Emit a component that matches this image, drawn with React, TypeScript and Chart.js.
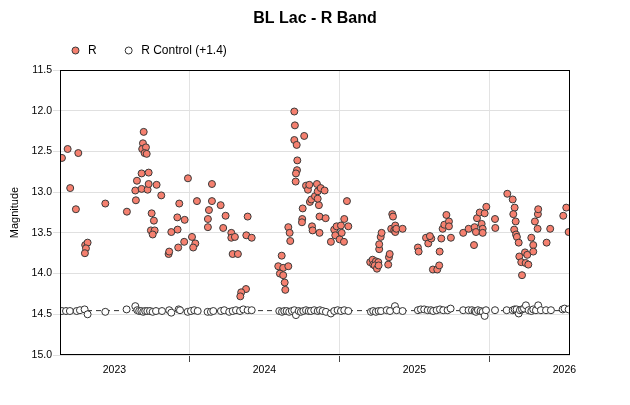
import { useEffect, useRef } from "react";
import { Chart, registerables } from "chart.js";

Chart.register(...registerables);

const TITLE = "BL Lac - R Band";
const R_LABEL = "R";
const CONTROL_LABEL = "R Control (+1.4)";
const Y_TITLE = "Magnitude";

// Observation epochs (decimal years) and R magnitudes of BL Lac
const rDates = [
  2023.150, 2023.188, 2023.259, 2023.205, 2023.243, 2023.305, 2023.321, 2023.310, 2023.303,
  2023.439, 2023.583, 2023.643, 2023.639, 2023.650, 2023.681, 2023.681, 2023.721, 2023.728,
  2023.728, 2023.695, 2023.690, 2023.685, 2023.710, 2023.701, 2023.715, 2023.781, 2023.812,
  2023.748, 2023.763, 2023.743, 2023.768, 2023.755, 2023.861, 2023.865, 2023.879, 2023.921,
  2023.919, 2023.932, 2023.968, 2023.925, 2023.965, 2023.990,
  2024.017, 2024.039, 2024.025, 2024.050, 2024.150, 2024.150, 2024.130, 2024.123, 2024.123,
  2024.208, 2024.241, 2024.225, 2024.279, 2024.279, 2024.303, 2024.288, 2024.323, 2024.388,
  2024.379, 2024.415, 2024.377, 2024.345, 2024.339,
  2024.615, 2024.592, 2024.625, 2024.659, 2024.603, 2024.625, 2024.635, 2024.639, 2024.659,
  2024.668, 2024.672, 2024.699, 2024.703, 2024.699, 2024.715, 2024.765, 2024.719, 2024.717,
  2024.710, 2024.708, 2024.777, 2024.790, 2024.799, 2024.850, 2024.755, 2024.752, 2024.750,
  2024.803, 2024.812, 2024.837, 2024.855, 2024.863, 2024.817, 2024.821, 2024.867, 2024.867,
  2024.875, 2024.901, 2024.855, 2024.908, 2025.050, 2024.943, 2024.965, 2024.981, 2024.972,
  2025.001, 2025.015, 2025.010, 2025.032, 2025.059, 2025.030,
  2025.205, 2025.221, 2025.225, 2025.243, 2025.259, 2025.235, 2025.250, 2025.261, 2025.265,
  2025.265, 2025.275, 2025.281, 2025.325, 2025.330, 2025.335, 2025.352, 2025.357, 2025.345,
  2025.365, 2025.372, 2025.372, 2025.379, 2025.421,
  2025.523, 2025.528, 2025.577, 2025.592, 2025.612, 2025.603, 2025.668, 2025.679, 2025.623,
  2025.652, 2025.665, 2025.688, 2025.699, 2025.713, 2025.730, 2025.730, 2025.743,
  2025.825, 2025.861, 2025.901, 2025.897, 2025.910, 2025.917, 2025.935, 2025.948, 2025.955,
  2025.955, 2025.968, 2025.979, 2026.037, 2026.039,
  2026.119, 2026.155, 2026.168, 2026.159, 2026.175, 2026.165, 2026.177, 2026.183, 2026.195,
  2026.199, 2026.237, 2026.252, 2026.212, 2026.241, 2026.259, 2026.217, 2026.279, 2026.292,
  2026.292, 2026.303, 2026.323, 2026.325, 2026.321, 2026.381, 2026.405, 2026.492, 2026.512,
  2026.528,
];

const rMags = [
  12.58, 12.47, 12.52, 12.95, 13.21, 13.65, 13.62, 13.69, 13.75,
  13.14, 13.24, 13.10, 12.98, 12.86, 12.77, 12.96, 12.97, 12.76,
  12.90, 12.26, 12.40, 12.47, 12.45, 12.52, 12.53, 12.91, 13.04,
  13.26, 13.35, 13.47, 13.47, 13.52, 13.76, 13.73, 13.49, 13.46,
  13.31, 13.14, 13.34, 13.68, 13.61, 12.83,
  13.55, 13.63, 13.68, 13.11, 12.90, 13.11, 13.22, 13.33, 13.43,
  13.16, 13.29, 13.44, 13.50, 13.56, 13.55, 13.76, 13.76, 13.30,
  13.53, 13.56, 14.19, 14.23, 14.28,
  13.78, 13.91, 13.93, 13.91, 14.00, 14.02, 14.11, 14.20, 13.43,
  13.50, 13.60, 12.01, 12.18, 12.36, 12.42, 12.31, 12.61, 12.73,
  12.77, 12.87, 12.92, 12.97, 12.91, 12.90, 13.20, 13.33, 13.37,
  13.12, 13.09, 13.05, 12.99, 13.16, 13.42, 13.47, 13.30, 13.50,
  12.95, 12.98, 13.08, 13.32, 13.11, 13.61, 13.46, 13.42, 13.53,
  13.58, 13.50, 13.41, 13.33, 13.42, 13.61,
  13.86, 13.83, 13.89, 13.85, 13.86, 13.90, 13.94, 13.90, 13.70,
  13.64, 13.55, 13.50, 13.89, 13.80, 13.76, 13.27, 13.30, 13.45,
  13.47, 13.41, 13.49, 13.45, 13.45,
  13.68, 13.73, 13.56, 13.63, 13.57, 13.54, 13.73, 13.57, 13.95,
  13.95, 13.90, 13.45, 13.40, 13.28, 13.36, 13.42, 13.56,
  13.50, 13.45, 13.43, 13.65, 13.49, 13.32, 13.25, 13.39, 13.45,
  13.50, 13.26, 13.18, 13.33, 13.44,
  13.02, 13.09, 13.19, 13.27, 13.36, 13.46, 13.52, 13.55, 13.62,
  13.79, 13.74, 13.77, 13.86, 13.87, 13.89, 14.02, 13.56, 13.65,
  13.73, 13.36, 13.27, 13.21, 13.45, 13.62, 13.45, 13.29, 13.19,
  13.49,
];

// Comparison star, shifted by +1.4 mag
const controlDates = [
  2023.150, 2023.177, 2023.203, 2023.248, 2023.270, 2023.301, 2023.321, 2023.439, 2023.581,
  2023.639, 2023.652, 2023.665, 2023.679, 2023.692, 2023.705, 2023.719, 2023.737, 2023.755,
  2023.777, 2023.817, 2023.865, 2023.879, 2023.928, 2023.937, 2023.988,
  2024.010, 2024.032, 2024.055, 2024.121, 2024.143, 2024.159, 2024.210, 2024.232, 2024.265,
  2024.288, 2024.310, 2024.337, 2024.359, 2024.388, 2024.415,
  2024.599, 2024.617, 2024.632, 2024.648, 2024.665, 2024.683, 2024.699, 2024.710, 2024.728,
  2024.743, 2024.759, 2024.777, 2024.795, 2024.810, 2024.832, 2024.855,
  2024.870, 2024.888, 2024.910, 2024.943, 2024.965, 2024.988, 2025.010, 2025.032, 2025.059,
  2025.210, 2025.225, 2025.243, 2025.261, 2025.277, 2025.315, 2025.337, 2025.370, 2025.381,
  2025.421,
  2025.523, 2025.543, 2025.565, 2025.588, 2025.610, 2025.625, 2025.648, 2025.670, 2025.692,
  2025.721, 2025.741,
  2025.825, 2025.861, 2025.883, 2025.901, 2025.910, 2025.923, 2025.941, 2025.955, 2025.968,
  2025.977,
  2026.037, 2026.115, 2026.155, 2026.168, 2026.181, 2026.195, 2026.203, 2026.217, 2026.230,
  2026.243, 2026.261, 2026.279, 2026.292, 2026.310, 2026.325, 2026.343, 2026.377, 2026.410,
  2026.488, 2026.501, 2026.528,
];

const controlMags = [
  14.46, 14.46, 14.46, 14.46, 14.45, 14.44, 14.50, 14.47, 14.44,
  14.40, 14.45, 14.46, 14.46, 14.47, 14.46, 14.46, 14.46, 14.47,
  14.46, 14.46, 14.45, 14.48, 14.44, 14.45, 14.47,
  14.46, 14.45, 14.46, 14.47, 14.47, 14.46, 14.46, 14.45, 14.47,
  14.46, 14.45, 14.46, 14.44, 14.45, 14.45,
  14.46, 14.47, 14.46, 14.46, 14.47, 14.46, 14.45, 14.51, 14.46,
  14.47, 14.46, 14.45, 14.46, 14.46, 14.45, 14.46,
  14.45, 14.46, 14.47, 14.49, 14.46, 14.45, 14.46, 14.45, 14.46,
  14.47, 14.46, 14.47, 14.46, 14.46, 14.45, 14.46, 14.40, 14.45,
  14.46,
  14.45, 14.44, 14.44, 14.45, 14.45, 14.46, 14.45, 14.44, 14.45,
  14.45, 14.43,
  14.45, 14.45, 14.45, 14.46, 14.47, 14.45, 14.46, 14.47, 14.52,
  14.45,
  14.45, 14.45, 14.45, 14.44, 14.44, 14.49, 14.45, 14.44, 14.43,
  14.39, 14.45, 14.46, 14.44, 14.45, 14.39, 14.45, 14.45, 14.45,
  14.44, 14.43, 14.44,
];

// Mean level of the comparison star
const controlMean = 14.455;

const xMin = 2023.137;
const xMax = 2026.537;
const yMin = 11.5;
const yMax = 15.0;
const yStep = 0.5;
// Year boundaries get grid lines; year labels sit mid-year
const yearBoundaries = [2024, 2025, 2026];
const yearLabels = [2023, 2024, 2025, 2026];

const FONT = "'Liberation Sans', Arial, sans-serif";
const R_FILL = "#f5806f";
const R_EDGE = "#3a3a3a";
const CTRL_FILL = "#ffffff";
const CTRL_EDGE = "#333333";

const frameAndKey = {
  id: "frameAndKey",
  beforeDraw(chart: any) {
    const { ctx, width, height } = chart;
    ctx.save();
    ctx.fillStyle = "#ffffff";
    ctx.fillRect(0, 0, width, height);
    ctx.restore();
  },
  afterDraw(chart: any) {
    const { ctx, chartArea: a, width } = chart;
    ctx.save();
    // plot frame
    ctx.strokeStyle = "#000000";
    ctx.lineWidth = 1;
    ctx.strokeRect(
      Math.round(a.left) + 0.5,
      Math.round(a.top) + 0.5,
      Math.round(a.right - a.left) - 1,
      Math.round(a.bottom - a.top) - 1
    );
    // title
    ctx.fillStyle = "#000000";
    ctx.font = `bold 16px ${FONT}`;
    ctx.textAlign = "center";
    ctx.textBaseline = "middle";
    ctx.fillText(TITLE, width / 2, 19);
    // series key
    ctx.font = `12px ${FONT}`;
    ctx.textAlign = "left";
    const items = chart.data.datasets.filter((d: any) => d.inKey);
    let x = 75.5;
    const y = 50.5;
    items.forEach((d: any) => {
      ctx.beginPath();
      ctx.arc(x, y, 3.5, 0, Math.PI * 2);
      ctx.fillStyle = d.backgroundColor;
      ctx.fill();
      ctx.lineWidth = 1;
      ctx.strokeStyle = d.borderColor;
      ctx.stroke();
      ctx.fillStyle = "#000000";
      ctx.fillText(d.label, x + 12.5, y);
      x += 12.5 + ctx.measureText(d.label).width + 32;
    });
    ctx.restore();
  },
};

export default function App() {
  const canvasRef = useRef<HTMLCanvasElement | null>(null);

  useEffect(() => {
    document.body.style.margin = "0";
    const canvas = canvasRef.current;
    if (!canvas) return;

    const chart = new Chart(canvas, {
      type: "scatter",
      data: {
        datasets: [
          {
            label: R_LABEL,
            inKey: true,
            data: rDates.map((t, i) => ({ x: t, y: rMags[i] })),
            backgroundColor: R_FILL,
            borderColor: R_EDGE,
            borderWidth: 1,
            pointRadius: 3.5,
            order: 0,
          } as any,
          {
            label: CONTROL_LABEL,
            inKey: true,
            data: controlDates.map((t, i) => ({ x: t, y: controlMags[i] })),
            backgroundColor: CTRL_FILL,
            borderColor: CTRL_EDGE,
            borderWidth: 1,
            pointRadius: 3.5,
            order: 1,
          } as any,
          {
            label: "mean",
            data: [
              { x: xMin, y: controlMean },
              { x: xMax, y: controlMean },
            ],
            showLine: true,
            borderColor: "#333333",
            borderWidth: 1,
            borderDash: [5, 4],
            pointRadius: 0,
            order: 2,
          } as any,
        ],
      },
      options: {
        responsive: false,
        animation: false,
        devicePixelRatio: 1,
        layout: { padding: { top: 70, left: 0, right: 60, bottom: 0 } },
        plugins: {
          legend: { display: false },
          title: { display: false },
          tooltip: { enabled: false },
        },
        scales: {
          x: {
            type: "linear",
            min: xMin,
            max: xMax,
            afterBuildTicks: (scale: any) => {
              const vals: number[] = [];
              yearLabels.forEach((yr) => vals.push(yr + 0.5));
              yearBoundaries.forEach((yr) => vals.push(yr));
              scale.ticks = vals
                .filter((v) => v >= xMin && v <= xMax)
                .sort((p, q) => p - q)
                .map((v) => ({ value: v }));
            },
            afterFit: (scale: any) => {
              scale.height = 50;
            },
            ticks: {
              autoSkip: false,
              maxRotation: 0,
              padding: 2,
              color: "#000000",
              font: { size: 10.5, family: FONT },
              callback: (v: any) => {
                const n = Number(v);
                return Math.abs(n - Math.floor(n) - 0.5) < 1e-6 ? String(Math.floor(n)) : "";
              },
            },
            grid: {
              tickLength: 7,
              lineWidth: 1,
              color: (c: any) => {
                const v = c.tick ? c.tick.value : 0.5;
                return Math.abs(v - Math.round(v)) < 1e-6 ? "#e3e3e3" : "rgba(0,0,0,0)";
              },
              tickColor: (c: any) => {
                const v = c.tick ? c.tick.value : 0.5;
                return Math.abs(v - Math.round(v)) < 1e-6 ? "#444444" : "rgba(0,0,0,0)";
              },
            },
            border: { display: false },
          },
          y: {
            type: "linear",
            reverse: true,
            min: yMin,
            max: yMax,
            afterFit: (scale: any) => {
              scale.width = 60;
            },
            ticks: {
              stepSize: yStep,
              padding: 1,
              color: "#000000",
              font: { size: 10.5, family: FONT },
              callback: (v: any) => Number(v).toFixed(1),
            },
            grid: {
              tickLength: 7,
              lineWidth: 1,
              color: "#e0e0e0",
              tickColor: "#e0e0e0",
            },
            border: { display: false },
            title: {
              display: true,
              text: Y_TITLE,
              color: "#000000",
              font: { size: 11, family: FONT },
              padding: { top: 8, bottom: 0 },
            },
          },
        },
      } as any,
      plugins: [frameAndKey],
    });

    return () => chart.destroy();
  }, []);

  return (
    <canvas
      ref={canvasRef}
      width={630}
      height={405}
      style={{ display: "block", width: 630, height: 405 }}
    />
  );
}
